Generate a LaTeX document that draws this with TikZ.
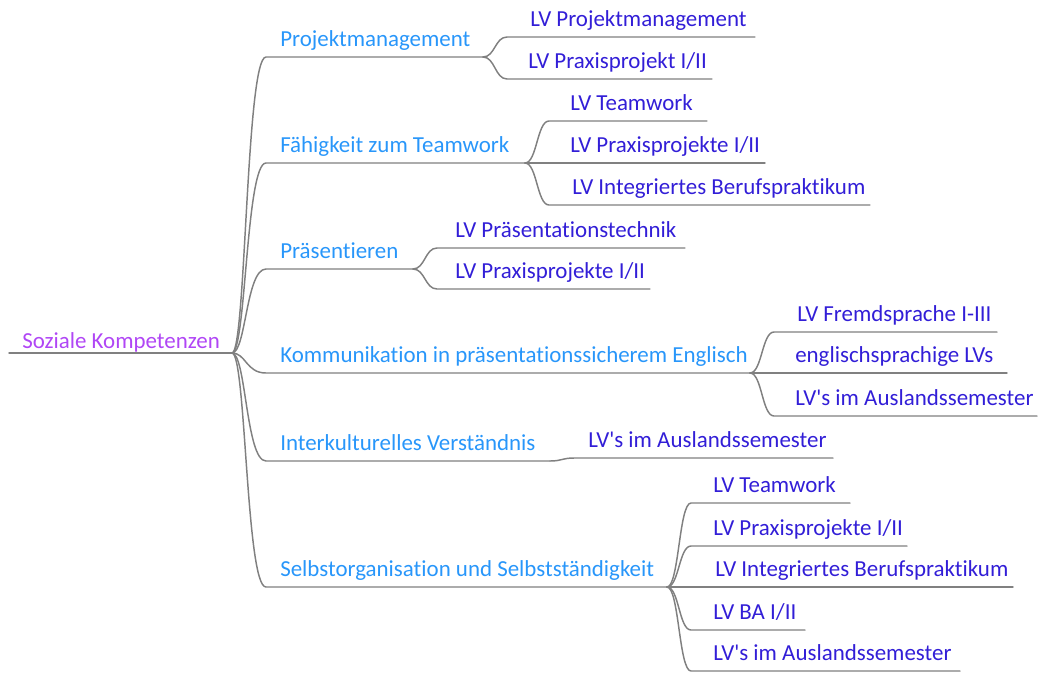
\documentclass[tikz,border=0pt]{standalone}
\usepackage{fontspec}
\setmainfont{Carlito}[Ligatures={TeXOff,NoCommon}]
\definecolor{rootc}{RGB}{176,70,245}
\definecolor{lonec}{RGB}{40,150,250}
\definecolor{ltwoc}{RGB}{50,30,215}
\definecolor{linec}{RGB}{128,128,128}
\tikzset{
  conn/.style={draw=linec, line width=1.1pt, line cap=round},
  rootT/.style={anchor=base west, inner sep=0pt, text=rootc, font=\fontsize{17.2}{20}\selectfont},
  oneT/.style={anchor=base west, inner sep=0pt, text=lonec, font=\fontsize{17.2}{20}\selectfont},
  twoT/.style={anchor=base west, inner sep=0pt, text=ltwoc, font=\fontsize{17.2}{20}\selectfont},
}
\begin{document}
\begin{tikzpicture}[x=0.75pt,y=-0.75pt]
\useasboundingbox (0,0) rectangle (1039,672);
% root
\coordinate (rootS) at (9,353);
\coordinate (rootE) at (232,353);
\node[rootT] (root) at (22,348) {Soziale Kompetenzen};
\draw[conn] (rootS) -- (rootE);
% level 1
\foreach \n/\t/\y/\e in {pm/Projektmanagement/57/483, tw/Fähigkeit zum Teamwork/163/525, pr/Präsentieren/269/413, ko/Kommunikation in präsentationssicherem Englisch/373/750, ik/Interkulturelles Verständnis/461/550, so/Selbstorganisation und Selbstständigkeit/587/667}{
  \coordinate (\n S) at (266,\y);
  \coordinate (\n E) at (\e,\y);
  \node[oneT] (\n) at (280,\y-11) {\t};
  \draw[conn] (rootE) .. controls +(14,0) and +(-20,0) .. (\n S) -- (\n E);
}
% level 2 (curved)
\foreach \p/\n/\t/\y/\x/\e in {
  pm/pma/LV Projektmanagement/37/530/755,
  pm/pmb/LV Praxisprojekt I\slash II/79/528/712,
  tw/twa/LV Teamwork/121/570/707,
  tw/twc/LV Integriertes Berufspraktikum/205/572/870,
  pr/pra/LV Präsentationstechnik/248/455/685,
  pr/prb/LV Praxisprojekte I\slash II/289/455/650,
  ko/koa/LV Fremdsprache I-III/332/797/997,
  ko/koc/LV's im Auslandssemester/416/795/1037,
  ik/ika/LV's im Auslandssemester/458/588/833,
  so/soa/LV Teamwork/503/713/850,
  so/sob/LV Praxisprojekte I\slash II/546/713/907,
  so/sod/LV BA I\slash II/630/713/805,
  so/soe/LV's im Auslandssemester/671/713/960}{
  \path (\p E) ++(24,0) coordinate (tmp);
  \coordinate (\n S) at (tmp |- 0,\y);
  \coordinate (\n E) at (\e,\y);
  \node[twoT] (\n) at (\x,\y-11) {\t};
  \draw[conn] (\p E) .. controls +(12,0) and +(-12,0) .. (\n S) -- (\n E);
}
% level 2 (straight, same height as parent)
\foreach \p/\n/\t/\y/\x/\e in {
  tw/twb/LV Praxisprojekte I\slash II/163/570/765,
  ko/kob/englischsprachige LVs/373/795/1007,
  so/soc/LV Integriertes Berufspraktikum/587/715/1013}{
  \coordinate (\n E) at (\e,\y);
  \node[twoT] (\n) at (\x,\y-11) {\t};
  \draw[conn] (\p E) -- (\n E);
}
\end{tikzpicture}
\end{document}
